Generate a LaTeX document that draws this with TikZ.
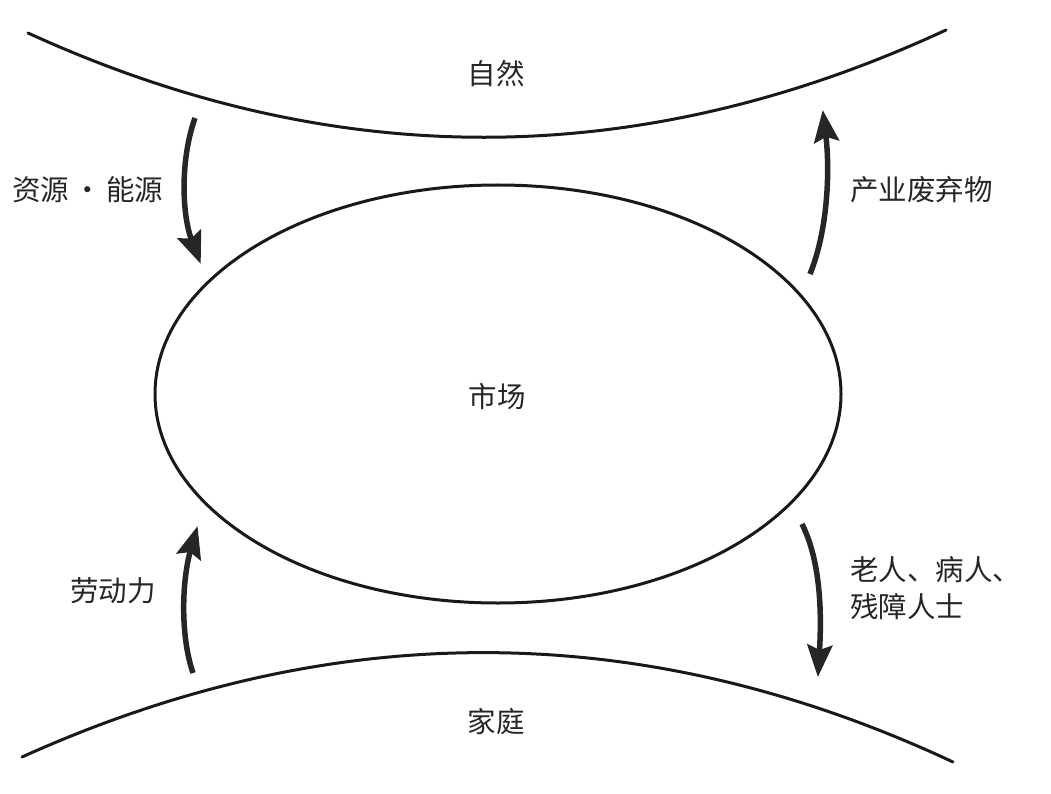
\documentclass[tikz,border=0pt]{standalone}
\usepackage{fontspec}
\newfontfamily\cjk{Noto Sans CJK SC}
\usetikzlibrary{arrows.meta,shapes.geometric}
\begin{document}
\begin{tikzpicture}[x=1pt,y=-1pt,
  curve/.style={line width=3pt,line cap=round,draw=black!90},
  flow/.style={line width=5.5pt,draw=black!85,-{Stealth[length=32pt,width=25pt,inset=5pt]},shorten >=-2pt},
  lbl/.style={font=\cjk\fontsize{28.5}{37}\selectfont,inner sep=0pt,text=black!85}]
\useasboundingbox (0,0) rectangle (1051,794);
% boundaries
\draw[curve] (28,33) .. controls (334,173) and (640,172) .. (946,30);
\draw[curve] (22,757) .. controls (332,617) and (643,617) .. (953,762);
% market
\node[draw=black!90,line width=3pt,ellipse,minimum width=686pt,minimum height=418pt,inner sep=0pt] (market) at (498,394) {};
\node[lbl] (mkt) at (497,397) {市场};
\node[lbl] (nature) at (496,74) {自然};
\node[lbl] (home) at (496,722) {家庭};
\node[lbl,anchor=west] (res) at (12,190) {资源\hspace{-2pt} · \hspace{-2pt}能源};
\node[lbl,anchor=west] (waste) at (850,190) {产业废弃物};
\node[lbl,anchor=west] (labor) at (70,591) {劳动力};
\node[lbl,anchor=north west,align=left] (care) at (850,556) {老人、病人、\\[0pt]残障人士};
% arrow ends
\coordinate (a1) at (195,118);
\coordinate (a2) at (200,262);
\coordinate (b1) at (810,274);
\coordinate (b2) at (823,112);
\coordinate (c1) at (193,673);
\coordinate (c2) at (197,528);
\coordinate (d1) at (802,524);
\coordinate (d2) at (818,675);
\draw[flow] (a1) .. controls (180,160) and (182,215) .. (a2);
\draw[flow] (b1) .. controls (828,230) and (830,170) .. (b2);
\draw[flow] (c1) .. controls (180,635) and (182,580) .. (c2);
\draw[flow] (d1) .. controls (820,560) and (822,610) .. (d2);
\end{tikzpicture}
\end{document}
